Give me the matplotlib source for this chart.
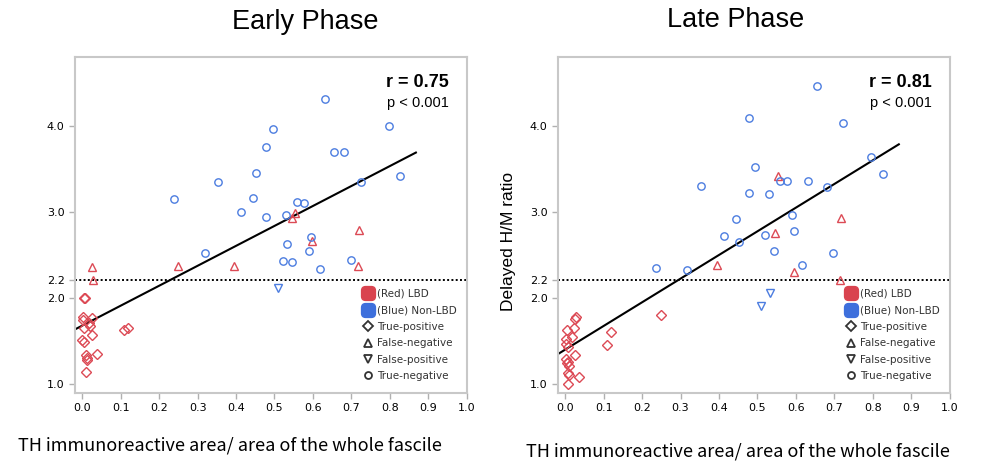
import numpy as np
import matplotlib.pyplot as plt
from matplotlib.lines import Line2D
from matplotlib.patches import BoxStyle

# ---- data ----
early_tp_x = [0.004, 0.008, 0.003, 0.026, 0.001, 0.018, 0.005, 0.020, 0.026, 0.000,
              0.005, 0.109, 0.120, 0.009, 0.013, 0.011, 0.038, 0.009]
early_tp_y = [2.00, 2.00, 1.773, 1.766, 1.734, 1.708, 1.650, 1.668, 1.564, 1.502,
              1.487, 1.618, 1.641, 1.328, 1.270, 1.300, 1.340, 1.139]
early_fn_x = [0.554, 0.545, 0.719, 0.597, 0.024, 0.029, 0.249, 0.396, 0.718]
early_fn_y = [2.984, 2.926, 2.790, 2.654, 2.361, 2.210, 2.372, 2.372, 2.372]
early_fp_x = [0.510]
early_fp_y = [2.114]
early_tn_x = [0.632, 0.496, 0.797, 0.478, 0.655, 0.682, 0.453, 0.353, 0.725, 0.826,
              0.238, 0.445, 0.559, 0.578, 0.412, 0.479, 0.531, 0.595, 0.533, 0.589,
              0.319, 0.521, 0.545, 0.699, 0.619]
early_tn_y = [4.313, 3.962, 3.993, 3.753, 3.691, 3.691, 3.451, 3.350, 3.350, 3.413,
              3.142, 3.161, 3.111, 3.100, 2.991, 2.933, 2.961, 2.705, 2.624, 2.543,
              2.520, 2.430, 2.419, 2.438, 2.338]

late_tp_x = [0.248, 0.029, 0.026, 0.023, 0.004, 0.119, 0.001, 0.017, 0.003, 0.109,
             0.007, 0.026, 0.001, 0.007, 0.004, 0.011, 0.007, 0.037, 0.007, 0.009]
late_tp_y = [1.800, 1.773, 1.746, 1.650, 1.618, 1.603, 1.520, 1.540, 1.464, 1.444,
             1.425, 1.332, 1.282, 1.255, 1.235, 1.204, 1.128, 1.081, 1.000, 1.100]
late_fn_x = [0.553, 0.718, 0.545, 0.395, 0.595, 0.716]
late_fn_y = [3.413, 2.921, 2.755, 2.384, 2.303, 2.210]
late_fp_x = [0.532, 0.510]
late_fp_y = [2.048, 1.905]
late_tn_x = [0.655, 0.477, 0.724, 0.796, 0.828, 0.495, 0.352, 0.558, 0.577, 0.631,
             0.681, 0.478, 0.530, 0.589, 0.444, 0.595, 0.413, 0.520, 0.452, 0.543,
             0.236, 0.318, 0.617, 0.698]
late_tn_y = [4.457, 4.086, 4.035, 3.637, 3.436, 3.517, 3.304, 3.362, 3.362, 3.355,
             3.285, 3.223, 3.204, 2.964, 2.914, 2.775, 2.717, 2.724, 2.647, 2.543,
             2.341, 2.322, 2.384, 2.520]

# regression lines (intercept, slope, x end) and stats
early_fit = (1.674, 2.32, 0.868)
late_fit = (1.395, 2.752, 0.868)
early_stats = ('r = 0.75', 'p < 0.001')
late_stats = ('r = 0.81', 'p < 0.001')
cutoff = 2.2

x_ticks = [0.0, 0.1, 0.2, 0.3, 0.4, 0.5, 0.6, 0.7, 0.8, 0.9, 1.0]
y_ticks = [1.0, 2.0, 2.2, 3.0, 4.0]

RED = '#dc4a55'
BLUE = '#4c7de0'
xlabel_txt = 'TH immunoreactive area/ area of the whole fascile'

# rounded square for the colour legend entries
round_sq = BoxStyle.Round(pad=0, rounding_size=0.3)(-0.5, -0.5, 1, 1, 1)


def draw_panel(ax, tp, fn, fp, tn, fit, stats):
    xmin, xmax = -0.019, 1.0
    ax.set_xlim(xmin, xmax)
    ax.set_ylim(0.89, 4.80)

    ax.axhline(cutoff, color='black', lw=1.4, ls=(0, (1, 1.2)), zorder=1)

    b, m, xe = fit
    xs = np.array([xmin, xe])
    ax.plot(xs, b + m * xs, color='black', lw=1.5, zorder=2)

    kw = dict(ls='', mfc='none', mew=1.0, zorder=3)
    ax.plot(tp[0], tp[1], marker='D', ms=5, mec=RED, **kw)
    ax.plot(fn[0], fn[1], marker='^', ms=5.5, mec=RED, **kw)
    ax.plot(fp[0], fp[1], marker='v', ms=5.5, mec=BLUE, **kw)
    ax.plot(tn[0], tn[1], marker='o', ms=5.3, mec=BLUE, **kw)

    ax.set_xticks(x_ticks)
    ax.set_xticklabels([f'{v:.1f}' for v in x_ticks])
    ax.set_yticks(y_ticks)
    ax.set_yticklabels([f'{v:.1f}' for v in y_ticks])
    ax.tick_params(axis='both', labelsize=8, color='#b0b0b0', length=4, width=1)
    for sp in ax.spines.values():
        sp.set_color('#c8c8c8')
        sp.set_linewidth(1.5)

    ax.text(0.955, 0.925, stats[0], transform=ax.transAxes, ha='right', va='center',
            fontsize=13, fontweight='bold', family='Liberation Sans')
    ax.text(0.955, 0.862, stats[1], transform=ax.transAxes, ha='right', va='center',
            fontsize=10.5, family='Liberation Sans')

    handles = [
        Line2D([], [], ls='', marker=round_sq, ms=10, mfc='#d9434f', mec='#d9434f'),
        Line2D([], [], ls='', marker=round_sq, ms=10, mfc='#3d6fdc', mec='#3d6fdc'),
        Line2D([], [], ls='', marker='D', ms=5, mfc='none', mec='#333333', mew=1.3),
        Line2D([], [], ls='', marker='^', ms=5.5, mfc='none', mec='#333333', mew=1.3),
        Line2D([], [], ls='', marker='v', ms=5.5, mfc='none', mec='#333333', mew=1.3),
        Line2D([], [], ls='', marker='o', ms=5, mfc='none', mec='#333333', mew=1.3),
    ]
    labels = ['(Red) LBD', '(Blue) Non-LBD', 'True-positive', 'False-negative',
              'False-positive', 'True-negative']
    ax.legend(handles, labels, loc='upper left', bbox_to_anchor=(0.735, 0.31),
              frameon=False, fontsize=7.5, handlelength=1.0, handletextpad=0.4,
              labelspacing=0.62, borderpad=0, borderaxespad=0, labelcolor='#333333')


fig = plt.figure(figsize=(9.84, 4.66), dpi=100)
ax1 = fig.add_axes([0.0762, 0.1567, 0.398, 0.721])
ax2 = fig.add_axes([0.567, 0.1567, 0.398, 0.721])

draw_panel(ax1, (early_tp_x, early_tp_y), (early_fn_x, early_fn_y),
           (early_fp_x, early_fp_y), (early_tn_x, early_tn_y), early_fit, early_stats)
draw_panel(ax2, (late_tp_x, late_tp_y), (late_fn_x, late_fn_y),
           (late_fp_x, late_fp_y), (late_tn_x, late_tn_y), late_fit, late_stats)

fig.text(305 / 984, 1 - 22 / 466, 'Early Phase', ha='center', va='center',
         fontsize=19.5, family='Liberation Sans')
fig.text(736 / 984, 1 - 20 / 466, 'Late Phase', ha='center', va='center',
         fontsize=19.5, family='Liberation Sans')

fig.text(230 / 984, 1 - 445 / 466, xlabel_txt, ha='center', va='center',
         fontsize=13, family=['Noto Sans CJK JP', 'DejaVu Sans'])
fig.text(738 / 984, 1 - 452 / 466, xlabel_txt, ha='center', va='center',
         fontsize=13, family=['Noto Sans CJK JP', 'DejaVu Sans'])
fig.text(508 / 984, 1 - 241 / 466, 'Delayed H/M ratio', ha='center', va='center',
         rotation=90, fontsize=12.5, family='Liberation Sans')

fig.savefig('out.png', dpi=100)
